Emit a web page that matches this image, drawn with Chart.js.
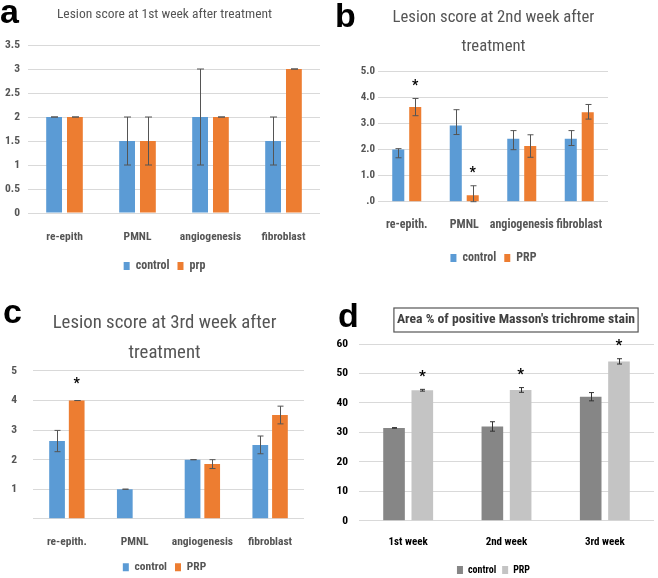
<!DOCTYPE html>
<html>
<head>
<meta charset="utf-8">
<script src="https://cdn.jsdelivr.net/npm/chart.js@4.4.1/dist/chart.umd.min.js"></script>
<style>
  body { margin: 0; background: #fff; width: 658px; height: 578px; position: relative; overflow: hidden; }
  canvas { position: absolute; }
  .lt { position: absolute; font-family: "Liberation Sans", Arial, sans-serif; font-weight: bold; font-size: 34px; line-height: 34px; color: #000; }
</style>
</head>
<body>
<canvas id="ca" width="329" height="289" style="left:0;top:0"></canvas>
<canvas id="cb" width="329" height="289" style="left:329px;top:0"></canvas>
<canvas id="cc" width="329" height="289" style="left:0;top:289px"></canvas>
<canvas id="cd" width="329" height="289" style="left:329px;top:289px"></canvas>
<div class="lt" style="left:0;top:-6px">a</div>
<div class="lt" style="left:335px;top:-2px">b</div>
<div class="lt" style="left:3px;top:294px">c</div>
<div class="lt" style="left:338px;top:298px">d</div>
<script>
// panel a - 1st week
const catsA = ["re-epith", "PMNL", "angiogenesis", "fibroblast"];
const ctrlA = [2, 1.5, 2, 1.5];
const ctrlErrA = [0, 0.5, 1, 0.5];
const prpA = [2, 1.5, 2, 3];
const prpErrA = [0, 0.5, 0, 0];
const ticksA = ["0", "0.5", "1", "1.5", "2", "2.5", "3", "3.5"];

// panel b - 2nd week
const catsB = ["re-epith.", "PMNL", "angiogenesis", "fibroblast"];
const ctrlB = [2.0, 2.92, 2.41, 2.41];
const ctrlUpB = [0.03, 0.6, 0.31, 0.31];
const ctrlDnB = [0.32, 0.35, 0.42, 0.26];
const prpB = [3.62, 0.25, 2.13, 3.42];
const prpUpB = [0.33, 0.36, 0.43, 0.3];
const prpDnB = [0.33, 0.36, 0.43, 0.26];
const starB = [true, true, false, false];
const ticksB = [".0", "1.0", "2.0", "3.0", "4.0", "5.0"];

// panel c - 3rd week
const catsC = ["re-epith.", "PMNL", "angiogenesis", "fibroblast"];
const ctrlC = [2.63, 1.0, 2.0, 2.5];
const ctrlErrC = [0.36, 0, 0, 0.3];
const prpC = [4.0, 0, 1.85, 3.51];
const prpErrC = [0, 0, 0.15, 0.3];
const starC = [true, false, false, false];
const ticksC = ["", "1", "2", "3", "4", "5"];

// panel d - Masson's trichrome
const weeksD = ["1st week", "2nd week", "3rd week"];
const ctrlD = [31.5, 32.0, 42.1];
const ctrlErrD = [0.1, 1.6, 1.4];
const prpD = [44.3, 44.4, 54.1];
const prpErrD = [0.3, 0.8, 0.9];
const starD = [true, true, true];
const ticksD = ["0", "10", "20", "30", "40", "50", "60"];

const FONT = '"Liberation Sans Narrow", "Roboto Condensed", Roboto, sans-serif';
Chart.defaults.font.family = FONT;
Chart.defaults.animation = false;

const BLUE = "#5b9bd5", ORANGE = "#ed7d31", GREY = "#555555";

// error bars + asterisks drawn on top of the bars
const errorBars = {
  id: "errorBars",
  afterDatasetsDraw(chart, args, o) {
    const ctx = chart.ctx, y = chart.scales.y;
    chart.data.datasets.forEach((ds, i) => {
      const meta = chart.getDatasetMeta(i);
      meta.data.forEach((bar, j) => {
        const v = ds.data[j], up = ds.errUp[j], dn = ds.errDn[j];
        if (!v && !up) return;
        const x = Math.round(bar.x) + 0.5;
        const yt = y.getPixelForValue(v + up);
        const yb = y.getPixelForValue(Math.max(0, v - dn));
        ctx.save();
        ctx.strokeStyle = o.color;
        ctx.lineWidth = 1;
        ctx.beginPath();
        ctx.moveTo(x, yt); ctx.lineTo(x, yb);
        ctx.moveTo(x - o.cap, yt); ctx.lineTo(x + o.cap, yt);
        ctx.moveTo(x - o.cap, yb); ctx.lineTo(x + o.cap, yb);
        ctx.stroke();
        if (ds.stars && ds.stars[j]) {
          ctx.fillStyle = "#000";
          ctx.font = o.starFont;
          ctx.textAlign = "center";
          ctx.textBaseline = "middle";
          ctx.fillText("*", bar.x, yt - o.starGap);
        }
        ctx.restore();
      });
    });
  }
};

// boxed title for panel d
const boxTitle = {
  id: "boxTitle",
  afterDraw(chart, args, o) {
    const ctx = chart.ctx;
    ctx.save();
    ctx.font = o.font;
    const w = ctx.measureText(o.text).width;
    ctx.fillStyle = o.color;
    ctx.textAlign = "center";
    ctx.textBaseline = "middle";
    ctx.fillText(o.text, o.cx, o.cy);
    ctx.strokeStyle = "#555";
    ctx.lineWidth = 1.2;
    ctx.strokeRect(o.cx - w / 2 - o.padX, o.cy - o.h / 2, w + 2 * o.padX, o.h);
    ctx.restore();
  }
};

function makeChart(id, c) {
  return new Chart(document.getElementById(id), {
    type: "bar",
    data: {
      labels: c.labels,
      datasets: [
        { label: "control", data: c.ctrl, errUp: c.ctrlUp, errDn: c.ctrlDn, stars: c.ctrlStar,
          backgroundColor: c.colors[0], categoryPercentage: c.cat, barPercentage: c.bar },
        { label: c.prpName, data: c.prp, errUp: c.prpUp, errDn: c.prpDn, stars: c.prpStar,
          backgroundColor: c.colors[1], categoryPercentage: c.cat, barPercentage: c.bar }
      ]
    },
    plugins: c.extraPlugins || [],
    options: {
      responsive: false,
      layout: { padding: { left: 0, right: 0, top: c.padTop || 0, bottom: c.padBottom } },
      plugins: {
        title: c.title ? {
          display: true, text: c.title, color: GREY,
          font: { size: c.titleSize, lineHeight: c.titleLH, weight: "normal" },
          padding: { top: c.titleTop, bottom: c.titleBottom }
        } : { display: false },
        legend: {
          position: "bottom",
          labels: { boxWidth: 6, boxHeight: 8, padding: c.legPad, color: c.textColor,
                    font: { size: c.legSize, weight: "bold" } }
        },
        tooltip: { enabled: false },
        errorBars: { color: c.errColor, cap: c.cap, starFont: c.starFont, starGap: c.starGap },
        boxTitle: c.boxTitle
      },
      scales: {
        x: {
          afterFit: s => { s.height = c.xH; },
          grid: { display: false, drawTicks: false }, border: { display: false },
          ticks: { color: c.textColor, padding: c.xPad, autoSkip: false, maxRotation: 0, minRotation: 0,
                   font: { size: c.xSize, weight: "bold" } }
        },
        y: {
          min: 0, max: c.max,
          afterFit: s => { s.width = c.left; },
          grid: { color: "#d9d9d9", drawTicks: false }, border: { display: false },
          ticks: { stepSize: c.step, padding: c.yPad, color: c.textColor,
                   font: { size: c.ySize, weight: "bold" },
                   callback: (v, i) => c.ticks[i] }
        },
        yr: {
          position: "right", display: true,
          afterFit: s => { s.width = c.right; },
          grid: { display: false }, border: { display: false }, ticks: { display: false }
        }
      }
    }
  });
}

Chart.register(errorBars);

makeChart("ca", {
  labels: catsA, ctrl: ctrlA, ctrlUp: ctrlErrA, ctrlDn: ctrlErrA, prp: prpA, prpUp: prpErrA, prpDn: prpErrA,
  prpName: "prp", colors: [BLUE, ORANGE], cat: 0.57, bar: 0.76,
  title: "Lesion score at 1st week after treatment", titleSize: 13.5, titleLH: 1.2, titleTop: 6.9, titleBottom: 21.9,
  max: 3.5, step: 0.5, ticks: ticksA, left: 28, right: 9, yPad: 8, ySize: 11.5,
  xH: 39, xPad: 16.8, xSize: 11.5, padBottom: 7, legPad: 8, legSize: 12,
  textColor: GREY, errColor: "#555", cap: 3.5, starFont: "bold 14px " + FONT, starGap: 12
});

makeChart("cb", {
  labels: catsB, ctrl: ctrlB, ctrlUp: ctrlUpB, ctrlDn: ctrlDnB, prp: prpB, prpUp: prpUpB, prpDn: prpDnB,
  prpStar: starB, prpName: "PRP", colors: [BLUE, ORANGE], cat: 0.59, bar: 0.71,
  title: ["Lesion score at 2nd week after", "treatment"], titleSize: 16.7, titleLH: 1.74, titleTop: 3.6, titleBottom: 9.3,
  max: 5, step: 1, ticks: ticksB, left: 49, right: 50, yPad: 3, ySize: 11,
  xH: 42.3, xPad: 16.1, xSize: 12, padBottom: 15, legPad: 8, legSize: 12,
  textColor: GREY, errColor: "#555", cap: 3, starFont: "bold 14px " + FONT, starGap: 12
});

makeChart("cc", {
  labels: catsC, ctrl: ctrlC, ctrlUp: ctrlErrC, ctrlDn: ctrlErrC, prp: prpC, prpUp: prpErrC, prpDn: prpErrC,
  prpStar: starC, prpName: "PRP", colors: [BLUE, ORANGE], cat: 0.58, bar: 0.8,
  title: ["Lesion score at 3rd week after", "treatment"], titleSize: 18.8, titleLH: 1.6, titleTop: 19, titleBottom: 2.8,
  max: 5, step: 1, ticks: ticksC, left: 33, right: 25, yPad: 16, ySize: 11.5,
  xH: 34.7, xPad: 16.5, xSize: 11.5, padBottom: -5, legPad: 8, legSize: 11.5,
  textColor: GREY, errColor: "#555", cap: 3, starFont: "bold 14px " + FONT, starGap: 16
});

makeChart("cd", {
  labels: weeksD, ctrl: ctrlD, ctrlUp: ctrlErrD, ctrlDn: ctrlErrD, prp: prpD, prpUp: prpErrD, prpDn: prpErrD,
  prpStar: starD, prpName: "PRP", colors: ["#868686", "#c4c4c4"], cat: 0.575, bar: 0.765,
  padTop: 55, max: 60, step: 10, ticks: ticksD, left: 30, right: 4, yPad: 11, ySize: 11.5,
  xH: 38.3, xPad: 14.7, xSize: 11, padBottom: -7, legPad: 6, legSize: 10,
  textColor: "#000", errColor: "#333", cap: 2.5, starFont: "bold 15px " + FONT, starGap: 12,
  extraPlugins: [boxTitle],
  boxTitle: { text: "Area % of positive Masson's trichrome stain", font: "bold 13.7px " + FONT,
              color: "#404040", cx: 187, cy: 31, h: 24, padX: 3 }
});
</script>
</body>
</html>
